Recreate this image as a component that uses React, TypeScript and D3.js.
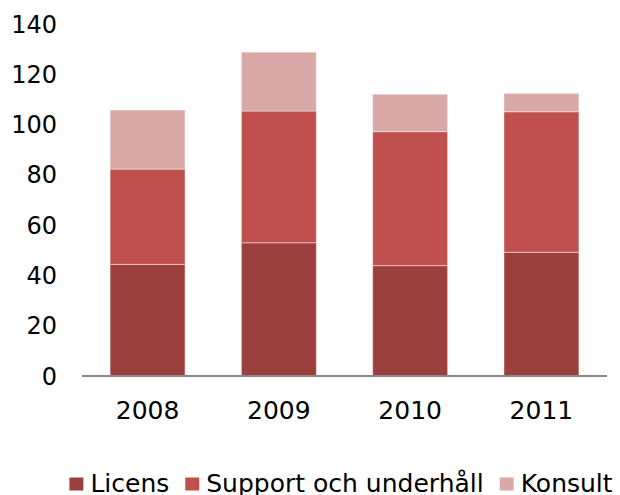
import { useEffect, useRef } from 'react';
import * as d3 from 'd3';

const years = ['2008', '2009', '2010', '2011'];
const licens = [44.4, 53.0, 43.9, 49.2];
const support = [37.9, 52.4, 53.3, 55.9];
const konsult = [23.5, 23.4, 14.9, 7.3];
const seriesNames = ['Licens', 'Support och underhåll', 'Konsult'];
const seriesColors = ['#9C403E', '#C0504D', '#D9A9A8'];
const yTicks = [0, 20, 40, 60, 80, 100, 120, 140];

const width = 620;
const height = 495;
const font = '"DejaVu Sans", Verdana, sans-serif';

export default function App() {
  const svgRef = useRef<SVGSVGElement>(null);

  useEffect(() => {
    if (!svgRef.current) return;
    const svg = d3.select(svgRef.current);
    svg.selectAll('*').remove();

    const left = 82;
    const right = 607;
    const top = 24;
    const bottom = 376;

    const x = d3.scaleBand<string>()
      .domain(years)
      .range([left, right])
      .paddingInner(0.429)
      .paddingOuter(0.214);

    const y = d3.scaleLinear().domain([0, 140]).range([bottom, top]);

    const rows = years.map((yr, i) => ({
      year: yr,
      Licens: licens[i],
      'Support och underhåll': support[i],
      Konsult: konsult[i],
    }));

    const stacked = d3.stack<any>().keys(seriesNames)(rows);

    // bars
    svg.append('g')
      .selectAll('g')
      .data(stacked)
      .join('g')
      .attr('fill', (_d, i) => seriesColors[i])
      .selectAll('rect')
      .data(d => d)
      .join('rect')
      .attr('x', d => x(d.data.year)!)
      .attr('width', x.bandwidth())
      .attr('y', d => y(d[1]))
      .attr('height', d => y(d[0]) - y(d[1]))
      .attr('stroke', 'rgba(255,255,255,0.45)')
      .attr('stroke-width', 1);

    // baseline
    svg.append('line')
      .attr('x1', left)
      .attr('x2', right)
      .attr('y1', y(0))
      .attr('y2', y(0))
      .attr('stroke', '#898989')
      .attr('stroke-width', 2);

    // y tick labels
    svg.append('g')
      .selectAll('text')
      .data(yTicks)
      .join('text')
      .attr('x', 57)
      .attr('y', d => y(d))
      .attr('dy', '0.36em')
      .attr('text-anchor', 'end')
      .style('font-family', font)
      .style('font-size', '24px')
      .attr('fill', '#000')
      .text(d => d);

    // x labels
    svg.append('g')
      .selectAll('text')
      .data(years)
      .join('text')
      .attr('x', d => x(d)! + x.bandwidth() / 2)
      .attr('y', 419)
      .attr('text-anchor', 'middle')
      .style('font-family', font)
      .style('font-size', '25px')
      .attr('fill', '#000')
      .text(d => d);

    // legend
    const legend = svg.append('g');
    const items = legend.selectAll('g')
      .data(seriesNames)
      .join('g');
    items.append('rect')
      .attr('width', 14)
      .attr('height', 13)
      .attr('y', 477.5)
      .attr('fill', (_d, i) => seriesColors[i]);
    const labels = items.append('text')
      .attr('x', 21)
      .attr('y', 492)
      .style('font-family', font)
      .style('font-size', '25px')
      .attr('fill', '#000')
      .text(d => d);

    const widths: number[] = [];
    labels.each(function () {
      widths.push((this as SVGTextElement).getComputedTextLength());
    });
    const gap = 16;
    const itemW = widths.map(w => 21 + w);
    const total = d3.sum(itemW) + gap * (itemW.length - 1);
    let cx = 341 - total / 2;
    items.attr('transform', (_d, i) => {
      const t = `translate(${cx},0)`;
      cx += itemW[i] + gap;
      return t;
    });
  }, []);

  return (
    <svg
      ref={svgRef}
      width={width}
      height={height}
      style={{ position: 'absolute', left: 0, top: 0, background: '#fff' }}
    />
  );
}
